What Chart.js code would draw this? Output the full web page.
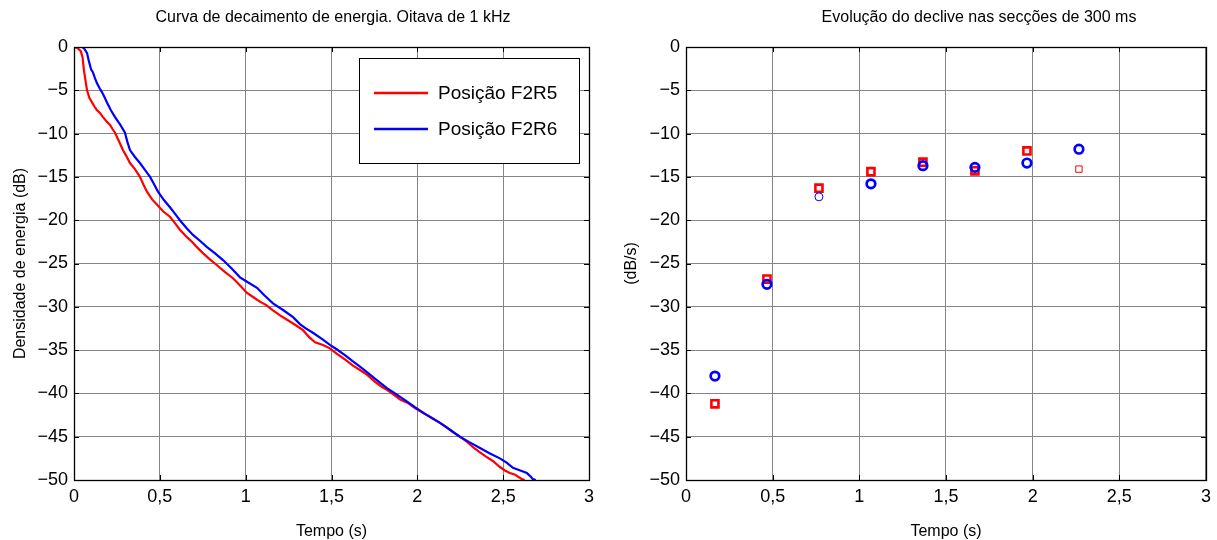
<!DOCTYPE html>
<html lang="pt">
<head>
  <meta charset="utf-8" />
  <title>Curva de decaimento de energia</title>
  <script src="https://cdn.jsdelivr.net/npm/chart.js"></script>
  <style>
    html, body { margin: 0; background: #fff; }
    .wrap { position: relative; width: 1217px; height: 540px; overflow: hidden; }
    .pane { position: absolute; top: 0; }
  </style>
</head>
<body>
  <div class="wrap">
    <canvas id="decay" class="pane" style="left:0" width="608" height="540"></canvas>
    <canvas id="slope" class="pane" style="left:608px" width="609" height="540"></canvas>
  </div>

  <script>
    // decay curves, 1 kHz octave (time in s, level in dB)
    const tF2R5 = [0, 0.02, 0.04, 0.05, 0.058, 0.068, 0.076, 0.09, 0.105, 0.12, 0.134, 0.15, 0.169, 0.19, 0.21, 0.225, 0.239, 0.26, 0.285, 0.305, 0.326, 0.355, 0.384, 0.405, 0.425, 0.455, 0.483, 0.52, 0.559, 0.59, 0.617, 0.655, 0.693, 0.72, 0.751, 0.79, 0.833, 0.88, 0.926, 0.97, 1.008, 1.045, 1.083, 1.12, 1.159, 1.2, 1.241, 1.29, 1.334, 1.37, 1.404, 1.45, 1.491, 1.53, 1.58, 1.625, 1.666, 1.71, 1.75, 1.79, 1.823, 1.86, 1.9, 1.945, 1.986, 2.03, 2.08, 2.132, 2.17, 2.21, 2.248, 2.29, 2.33, 2.365, 2.4, 2.44, 2.481, 2.51, 2.539, 2.57, 2.609, 2.625];
    const dbF2R5 = [0, -0.1, -0.5, -1.2, -2.7, -4.0, -5.0, -5.9, -6.4, -6.9, -7.3, -7.6, -8.1, -8.6, -9.0, -9.5, -9.9, -10.8, -11.9, -12.6, -13.4, -14.1, -15.0, -15.9, -16.7, -17.6, -18.2, -19.0, -19.6, -20.4, -21.1, -21.9, -22.6, -23.2, -23.8, -24.5, -25.2, -26.0, -26.7, -27.6, -28.4, -28.9, -29.4, -29.8, -30.4, -31.0, -31.5, -32.1, -32.7, -33.5, -34.1, -34.4, -34.8, -35.4, -36.1, -36.8, -37.3, -37.9, -38.6, -39.2, -39.6, -40.1, -40.7, -41.1, -41.7, -42.2, -42.8, -43.4, -43.9, -44.5, -45.0, -45.6, -46.3, -46.8, -47.3, -47.8, -48.5, -48.9, -49.2, -49.4, -49.9, -50.0];

    const tF2R6 = [0, 0.047, 0.06, 0.076, 0.085, 0.093, 0.1, 0.11, 0.122, 0.134, 0.15, 0.163, 0.178, 0.192, 0.215, 0.239, 0.27, 0.297, 0.31, 0.326, 0.355, 0.384, 0.41, 0.443, 0.465, 0.489, 0.525, 0.559, 0.59, 0.617, 0.655, 0.693, 0.735, 0.775, 0.82, 0.868, 0.92, 0.967, 1.015, 1.066, 1.11, 1.159, 1.22, 1.276, 1.316, 1.35, 1.392, 1.45, 1.491, 1.53, 1.58, 1.625, 1.666, 1.71, 1.76, 1.823, 1.87, 1.93, 1.986, 2.04, 2.09, 2.132, 2.19, 2.248, 2.3, 2.365, 2.42, 2.481, 2.52, 2.557, 2.6, 2.638, 2.66, 2.673, 2.69];
    const dbF2R6 = [0, 0, -0.2, -0.7, -1.5, -2.1, -2.6, -2.9, -3.6, -4.2, -4.8, -5.2, -5.8, -6.4, -7.3, -8.1, -9.0, -9.9, -10.9, -11.9, -12.7, -13.4, -14.1, -15.0, -15.8, -16.7, -17.7, -18.5, -19.3, -20.0, -20.9, -21.7, -22.4, -23.1, -23.8, -24.6, -25.6, -26.6, -27.2, -27.8, -28.7, -29.6, -30.4, -31.2, -32.0, -32.5, -33.0, -33.8, -34.4, -34.9, -35.6, -36.3, -36.9, -37.6, -38.4, -39.4, -40.0, -40.8, -41.6, -42.3, -42.9, -43.4, -44.2, -45.0, -45.6, -46.3, -46.9, -47.5, -48.0, -48.6, -48.9, -49.2, -49.6, -49.9, -50.0];

    // slope of each 300 ms section (dB/s)
    const sectionTime = [0.167, 0.467, 0.767, 1.067, 1.367, 1.667, 1.967, 2.267];
    const slopeF2R5 = [-41.2, -26.8, -16.3, -14.4, -13.3, -14.3, -12.0, -14.1];
    const slopeF2R6 = [-38.0, -27.4, -17.3, -15.8, -13.7, -13.9, -13.4, -11.8];
    const goodF2R5 = [true, true, true, true, true, true, true, false];
    const goodF2R6 = [true, true, false, true, true, true, true, true];

    const timeTicks = [0, 0.5, 1, 1.5, 2, 2.5, 3];
    const levelTicks = [0, -5, -10, -15, -20, -25, -30, -35, -40, -45, -50];

    const FONT = '"Liberation Sans", Arial, Helvetica, sans-serif';
    const RED = '#ff0000';
    const BLUE = '#0000ff';
    const GRID = '#858585';

    const fmt = v => {
      const s = String(Math.abs(v)).replace('.', ',');
      return v < 0 ? '\u2212' + s : s;
    };
    const pts = (xs, ys) => xs.map((x, i) => ({ x, y: ys[i] }));

    // MATLAB style box: black frame + inward tick marks on all sides
    const boxPlugin = {
      id: 'box',
      afterDatasetsDraw(chart) {
        const { ctx, chartArea: a, scales } = chart;
        ctx.save();
        ctx.strokeStyle = '#000';
        ctx.lineWidth = 1;
        ctx.beginPath();
        timeTicks.forEach(t => {
          const x = Math.round(scales.x.getPixelForValue(t)) + 0.5;
          ctx.moveTo(x, a.bottom); ctx.lineTo(x, a.bottom - 5);
          ctx.moveTo(x, a.top); ctx.lineTo(x, a.top + 5);
        });
        levelTicks.forEach(v => {
          const y = Math.round(scales.y.getPixelForValue(v)) + 0.5;
          ctx.moveTo(a.left, y); ctx.lineTo(a.left + 5, y);
          ctx.moveTo(a.right, y); ctx.lineTo(a.right - 5, y);
        });
        ctx.stroke();
        ctx.lineWidth = 1.3;
        ctx.strokeRect(Math.round(a.left) + 0.5, Math.round(a.top) + 0.5,
          Math.round(a.right - a.left), Math.round(a.bottom - a.top));
        ctx.restore();
      }
    };

    // title drawn by hand so its centre can sit where the original had it
    const topTitle = (text, cx) => ({
      id: 'topTitle',
      afterDraw(chart) {
        const ctx = chart.ctx;
        ctx.save();
        ctx.font = '16px ' + FONT;
        ctx.fillStyle = '#000';
        ctx.textAlign = 'center';
        ctx.textBaseline = 'middle';
        ctx.fillText(text, cx, 18);
        ctx.restore();
      }
    });

    const boxLegend = {
      id: 'boxLegend',
      afterDraw(chart) {
        const { ctx, chartArea: a } = chart;
        const w = 220, h = 105;
        const left = a.right - 10 - w, top = a.top + 11;
        ctx.save();
        ctx.fillStyle = '#fff';
        ctx.fillRect(left, top, w, h);
        ctx.strokeStyle = '#000';
        ctx.lineWidth = 1;
        ctx.strokeRect(left + 0.5, top + 0.5, w, h);
        ctx.font = '19px ' + FONT;
        ctx.textBaseline = 'middle';
        chart.data.datasets.forEach((ds, i) => {
          const y = top + 35 + i * 36;
          ctx.strokeStyle = ds.borderColor;
          ctx.lineWidth = 2.5;
          ctx.beginPath();
          ctx.moveTo(left + 15, y); ctx.lineTo(left + 69, y);
          ctx.stroke();
          ctx.fillStyle = '#000';
          ctx.fillText(ds.label, left + 79, y + 1);
        });
        ctx.restore();
      }
    };

    const axes = (yWidth, yTitle, yTitlePad) => ({
      x: {
        type: 'linear', min: 0, max: 3,
        afterBuildTicks: s => { s.ticks = timeTicks.map(v => ({ value: v })); },
        afterFit: s => { s.height = 60; },
        grid: { color: GRID, drawTicks: false },
        border: { color: '#000' },
        ticks: { color: '#000', padding: 6, font: { family: FONT, size: 18 }, callback: v => fmt(v), maxRotation: 0 },
        title: { display: true, text: 'Tempo (s)', color: '#000', font: { family: FONT, size: 16 }, padding: { top: 0, bottom: -1 } }
      },
      y: {
        min: -50, max: 0,
        afterBuildTicks: s => { s.ticks = levelTicks.map(v => ({ value: v })); },
        afterFit: s => { s.width = yWidth; },
        grid: { color: GRID, drawTicks: false },
        border: { color: '#000' },
        ticks: { color: '#000', padding: 6, font: { family: FONT, size: 18 }, callback: v => fmt(v) },
        title: { display: true, text: yTitle, color: '#000', font: { family: FONT, size: 16 }, padding: { top: yTitlePad, bottom: 0 } }
      }
    });

    new Chart(document.getElementById('decay'), {
      type: 'line',
      data: {
        datasets: [
          { label: 'Posição F2R5', data: pts(tF2R5, dbF2R5), borderColor: RED, borderWidth: 2.2, pointRadius: 0, order: 1 },
          { label: 'Posição F2R6', data: pts(tF2R6, dbF2R6), borderColor: BLUE, borderWidth: 2.2, pointRadius: 0, order: 0 }
        ]
      },
      options: {
        responsive: false,
        animation: false,
        parsing: false,
        layout: { padding: { left: 0, right: 19, bottom: 0, top: 47 } },
        scales: axes(74, 'Densidade de energia (dB)', 11),
        plugins: { legend: { display: false }, tooltip: { enabled: false } }
      },
      plugins: [boxPlugin, boxLegend, topTitle('Curva de decaimento de energia. Oitava de 1 kHz', 333)]
    });

    new Chart(document.getElementById('slope'), {
      type: 'scatter',
      data: {
        datasets: [
          {
            label: 'Posição F2R5', data: pts(sectionTime, slopeF2R5), order: 1,
            pointStyle: 'rect', borderColor: RED, backgroundColor: 'rgba(0,0,0,0)',
            pointRadius: goodF2R5.map(g => g ? 5 : 4.5),
            pointBorderWidth: goodF2R5.map(g => g ? 2.6 : 1)
          },
          {
            label: 'Posição F2R6', data: pts(sectionTime, slopeF2R6), order: 0,
            pointStyle: 'circle', borderColor: BLUE, backgroundColor: 'rgba(0,0,0,0)',
            pointRadius: goodF2R6.map(g => g ? 4.3 : 4),
            pointBorderWidth: goodF2R6.map(g => g ? 2.7 : 1)
          }
        ]
      },
      options: {
        responsive: false,
        animation: false,
        layout: { padding: { left: 0, right: 11, bottom: 0, top: 47 } },
        scales: axes(78, '(dB/s)', 14),
        plugins: { legend: { display: false }, tooltip: { enabled: false } }
      },
      plugins: [boxPlugin, topTitle('Evolução do declive nas secções de 300 ms', 979 - 608)]
    });
  </script>
</body>
</html>
